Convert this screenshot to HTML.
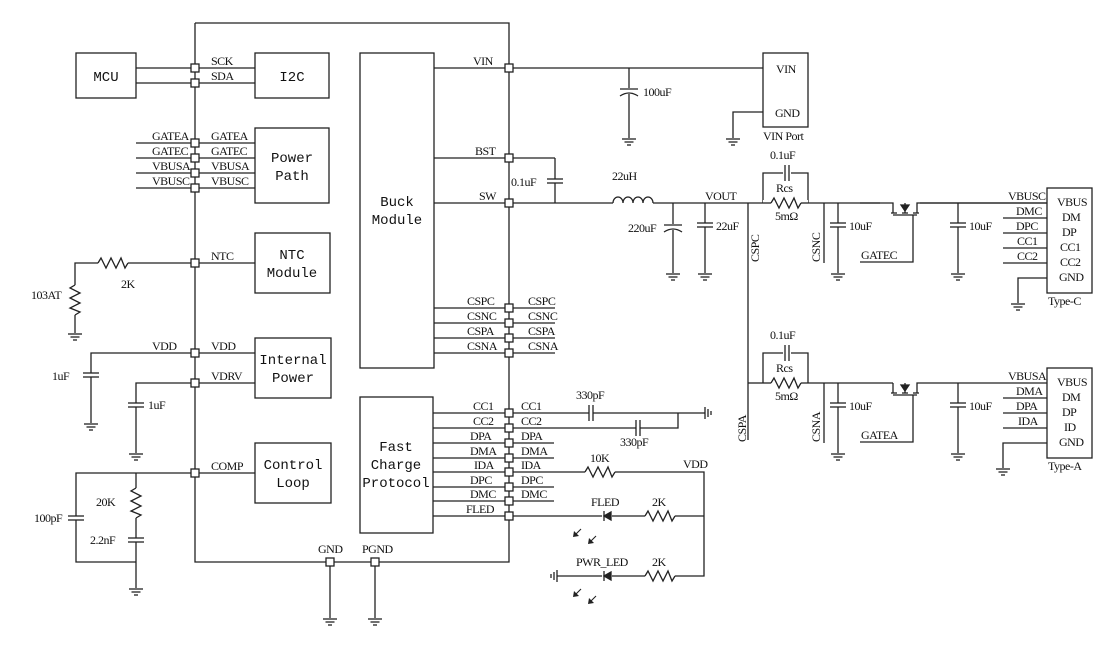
<!DOCTYPE html>
<html><head><meta charset="utf-8"><style>
html,body{margin:0;padding:0;background:#fff;}
svg{display:block}
text{font-family:"Liberation Serif",serif;font-size:12px;fill:#111;letter-spacing:-0.5px}
.m{font-family:"Liberation Mono",monospace;font-size:14px;letter-spacing:0}
</style></head><body>
<svg width="1118" height="653" viewBox="0 0 1118 653" xmlns="http://www.w3.org/2000/svg">
<defs>
<g id="gnd"><line x1="-7" y1="0" x2="7" y2="0"/><line x1="-4.5" y1="3" x2="4.5" y2="3"/><line x1="-2" y1="6" x2="2" y2="6"/></g>
<g id="rh"><polyline points="-15,0 -12,-5 -7,5 -2,-5 3,5 8,-5 12,5 15,0" fill="none"/></g>
<g id="rv"><polyline points="0,-15 -5,-12 5,-7 -5,-2 5,3 -5,8 5,12 0,15" fill="none"/></g>
<g id="cv"><line x1="-8" y1="-2" x2="8" y2="-2"/><line x1="-8" y1="2" x2="8" y2="2"/></g>
<g id="ch"><line x1="-2" y1="-8" x2="-2" y2="8"/><line x1="2" y1="-8" x2="2" y2="8"/></g>
<g id="ce"><line x1="-9" y1="-3" x2="9" y2="-3"/><path d="M-9,4 Q0,-2 9,4" fill="none"/></g>
<g id="p"><rect x="-4" y="-4" width="8" height="8" fill="#fff"/></g>
</defs>
<g stroke="#222" stroke-width="1.3" fill="none">
<polyline points="195,23 509,23 509,562 195,562 195,23"/>
<rect x="76" y="53" width="60" height="45"/>
<rect x="255" y="53" width="74" height="45"/>
<rect x="255" y="128" width="74" height="75"/>
<rect x="255" y="233" width="75" height="60"/>
<rect x="255" y="338" width="76" height="60"/>
<rect x="255" y="443" width="76" height="60"/>
<rect x="360" y="53" width="74" height="315"/>
<rect x="360" y="397" width="73" height="136"/>
<rect x="763" y="53" width="45" height="74"/>
<rect x="1047" y="188" width="45" height="105"/>
<rect x="1047" y="368" width="45" height="90"/>
<line x1="136" y1="68" x2="255" y2="68"/><line x1="136" y1="83" x2="255" y2="83"/>
<line x1="136" y1="143" x2="255" y2="143"/><line x1="136" y1="158" x2="255" y2="158"/>
<line x1="136" y1="173" x2="255" y2="173"/><line x1="136" y1="188" x2="255" y2="188"/>
<polyline points="75,285 75,263 98,263"/><line x1="128" y1="263" x2="255" y2="263"/>
<use href="#rh" x="113" y="263"/>
<use href="#rv" x="75" y="300"/><line x1="75" y1="315" x2="75" y2="333"/><use href="#gnd" x="75" y="334"/>
<polyline points="91,373 91,353 255,353"/><line x1="91" y1="377" x2="91" y2="423"/><use href="#cv" x="91" y="375"/><use href="#gnd" x="91" y="424"/>
<polyline points="136,403 136,383 255,383"/><line x1="136" y1="407" x2="136" y2="453"/><use href="#cv" x="136" y="405"/><use href="#gnd" x="136" y="454"/>
<polyline points="76,516 76,473 255,473"/><polyline points="76,520 76,562 136,562"/>
<use href="#cv" x="76" y="518"/>
<line x1="136" y1="473" x2="136" y2="488"/><use href="#rv" x="136" y="503"/><line x1="136" y1="518" x2="136" y2="538"/>
<use href="#cv" x="136" y="540"/><line x1="136" y1="542" x2="136" y2="588"/><use href="#gnd" x="136" y="589"/>
<line x1="330" y1="562" x2="330" y2="618"/><use href="#gnd" x="330" y="619"/>
<line x1="375" y1="562" x2="375" y2="618"/><use href="#gnd" x="375" y="619"/>
<line x1="434" y1="68" x2="763" y2="68"/>
<line x1="434" y1="158" x2="555" y2="158"/><line x1="555" y1="158" x2="555" y2="179"/><line x1="555" y1="183" x2="555" y2="203"/><use href="#cv" x="555" y="181"/>
<line x1="434" y1="203" x2="613" y2="203"/>
<path d="M613,203 a5,6 0 0 1 10,0 a5,6 0 0 1 10,0 a5,6 0 0 1 10,0 a5,6 0 0 1 10,0"/>
<line x1="653" y1="203" x2="1047" y2="203"/>
<line x1="434" y1="308" x2="555" y2="308"/><line x1="434" y1="323" x2="555" y2="323"/>
<line x1="434" y1="338" x2="555" y2="338"/><line x1="434" y1="353" x2="555" y2="353"/>
<line x1="629" y1="68" x2="629" y2="88"/><use href="#ce" x="629" y="92"/><line x1="629" y1="94" x2="629" y2="138"/><use href="#gnd" x="629" y="139"/>
<polyline points="763,112 733,112 733,138"/><use href="#gnd" x="733" y="139"/>
<line x1="673" y1="203" x2="673" y2="224"/><use href="#ce" x="673" y="228"/><line x1="673" y1="230" x2="673" y2="273"/><use href="#gnd" x="673" y="274"/>
<line x1="705" y1="203" x2="705" y2="223"/><use href="#cv" x="705" y="225"/><line x1="705" y1="227" x2="705" y2="273"/><use href="#gnd" x="705" y="274"/>
<line x1="748" y1="203" x2="748" y2="440"/>
<polyline points="763,203 763,173 783,173"/><polyline points="791,173 808,173 808,203"/><use href="#ch" x="787" y="173"/>
<rect x="763" y="200" width="45" height="6" stroke="none" fill="#fff"/>
<line x1="763" y1="203" x2="771" y2="203"/><use href="#rh" x="786" y="203"/><line x1="801" y1="203" x2="808" y2="203"/>
<line x1="824" y1="203" x2="824" y2="263"/>
<line x1="838" y1="203" x2="838" y2="223"/><use href="#cv" x="838" y="225"/><line x1="838" y1="227" x2="838" y2="273"/><use href="#gnd" x="838" y="274"/>
<rect x="880" y="200" width="40" height="6" stroke="none" fill="#fff"/>
<polyline points="860,203 893,203 893,213"/><polyline points="917,213 917,203 1047,203"/>
<line x1="893" y1="215" x2="917" y2="215"/><line x1="905" y1="203" x2="905" y2="213"/>
<line x1="891" y1="213" x2="897" y2="213"/><line x1="902" y1="213" x2="908" y2="213"/><line x1="913" y1="213" x2="919" y2="213"/>
<path d="M901,205 L909,205 L905,211 Z" fill="#222"/>
<polyline points="860,262 913,262 913,215"/>
<line x1="958" y1="203" x2="958" y2="223"/><use href="#cv" x="958" y="225"/><line x1="958" y1="227" x2="958" y2="273"/><use href="#gnd" x="958" y="274"/>
<line x1="1003" y1="218" x2="1047" y2="218"/><line x1="1003" y1="233" x2="1047" y2="233"/>
<line x1="1003" y1="248" x2="1047" y2="248"/><line x1="1003" y1="263" x2="1047" y2="263"/>
<polyline points="1047,278 1018,278 1018,303"/><use href="#gnd" x="1018" y="304"/>
<line x1="748" y1="383" x2="763" y2="383"/>
<polyline points="763,383 763,353 783,353"/><polyline points="791,353 808,353 808,383"/><use href="#ch" x="787" y="353"/>
<line x1="763" y1="383" x2="771" y2="383"/><use href="#rh" x="786" y="383"/><line x1="801" y1="383" x2="893" y2="383"/>
<line x1="824" y1="383" x2="824" y2="443"/>
<line x1="838" y1="383" x2="838" y2="403"/><use href="#cv" x="838" y="405"/><line x1="838" y1="407" x2="838" y2="453"/><use href="#gnd" x="838" y="454"/>
<line x1="893" y1="383" x2="893" y2="393"/><polyline points="917,393 917,383 1047,383"/>
<line x1="893" y1="395" x2="917" y2="395"/><line x1="905" y1="383" x2="905" y2="393"/>
<line x1="891" y1="393" x2="897" y2="393"/><line x1="902" y1="393" x2="908" y2="393"/><line x1="913" y1="393" x2="919" y2="393"/>
<path d="M901,385 L909,385 L905,391 Z" fill="#222"/>
<polyline points="860,442 913,442 913,395"/>
<line x1="958" y1="383" x2="958" y2="403"/><use href="#cv" x="958" y="405"/><line x1="958" y1="407" x2="958" y2="453"/><use href="#gnd" x="958" y="454"/>
<line x1="1003" y1="398" x2="1047" y2="398"/><line x1="1003" y1="413" x2="1047" y2="413"/>
<line x1="1003" y1="428" x2="1047" y2="428"/>
<polyline points="1047,443 1003,443 1003,468"/><use href="#gnd" x="1003" y="469"/>
<line x1="433" y1="413" x2="589" y2="413"/><line x1="593" y1="413" x2="705" y2="413"/><use href="#ch" x="591" y="413"/>
<line x1="705" y1="407" x2="705" y2="419"/><line x1="708" y1="409" x2="708" y2="417"/><line x1="711" y1="411" x2="711" y2="415"/>
<line x1="433" y1="428" x2="636" y2="428"/><polyline points="640,428 678,428 678,413"/><use href="#ch" x="638" y="428"/>
<line x1="433" y1="443" x2="554" y2="443"/><line x1="433" y1="458" x2="554" y2="458"/>
<line x1="433" y1="472" x2="585" y2="472"/><use href="#rh" x="600" y="472"/><polyline points="615,472 704,472 704,576 675,576"/>
<line x1="433" y1="487" x2="554" y2="487"/><line x1="433" y1="501" x2="554" y2="501"/>
<line x1="433" y1="516" x2="602" y2="516"/><line x1="612" y1="516" x2="645" y2="516"/><use href="#rh" x="660" y="516"/><line x1="675" y1="516" x2="704" y2="516"/>
<path d="M604,516 L611,512 L611,520 Z" fill="#222"/><line x1="604" y1="511" x2="604" y2="521"/>
<line x1="557" y1="576" x2="602" y2="576"/><line x1="612" y1="576" x2="645" y2="576"/><use href="#rh" x="660" y="576"/>
<path d="M604,576 L611,572 L611,580 Z" fill="#222"/><line x1="604" y1="571" x2="604" y2="581"/>
<line x1="557" y1="570" x2="557" y2="582"/><line x1="554" y1="572" x2="554" y2="580"/><line x1="551" y1="574" x2="551" y2="578"/>
<g stroke-width="1.1">
<line x1="581" y1="529" x2="575" y2="535"/><line x1="596" y1="536" x2="590" y2="542"/>
<line x1="581" y1="589" x2="575" y2="595"/><line x1="596" y1="596" x2="590" y2="602"/>
</g>
<g fill="#222" stroke="none">
<path d="M573,537 L574,531 L579,536 Z"/><path d="M588,544 L589,538 L594,543 Z"/>
<path d="M573,597 L574,591 L579,596 Z"/><path d="M588,604 L589,598 L594,603 Z"/>
</g>
<g>
<use href="#p" x="195" y="68"/><use href="#p" x="195" y="83"/>
<use href="#p" x="195" y="143"/><use href="#p" x="195" y="158"/><use href="#p" x="195" y="173"/><use href="#p" x="195" y="188"/>
<use href="#p" x="195" y="263"/><use href="#p" x="195" y="353"/><use href="#p" x="195" y="383"/><use href="#p" x="195" y="473"/>
<use href="#p" x="330" y="562"/><use href="#p" x="375" y="562"/>
<use href="#p" x="509" y="68"/><use href="#p" x="509" y="158"/><use href="#p" x="509" y="203"/>
<use href="#p" x="509" y="308"/><use href="#p" x="509" y="323"/><use href="#p" x="509" y="338"/><use href="#p" x="509" y="353"/>
<use href="#p" x="509" y="413"/><use href="#p" x="509" y="428"/><use href="#p" x="509" y="443"/><use href="#p" x="509" y="458"/>
<use href="#p" x="509" y="472"/><use href="#p" x="509" y="487"/><use href="#p" x="509" y="501"/><use href="#p" x="509" y="516"/>
</g>
</g>
<g>
<text class="m" x="106" y="81" text-anchor="middle">MCU</text>
<text class="m" x="292" y="81" text-anchor="middle">I2C</text>
<text class="m" x="292" y="162" text-anchor="middle">Power</text><text class="m" x="292" y="180" text-anchor="middle">Path</text>
<text class="m" x="292" y="259" text-anchor="middle">NTC</text><text class="m" x="292" y="277" text-anchor="middle">Module</text>
<text class="m" x="293" y="364" text-anchor="middle">Internal</text><text class="m" x="293" y="382" text-anchor="middle">Power</text>
<text class="m" x="293" y="469" text-anchor="middle">Control</text><text class="m" x="293" y="487" text-anchor="middle">Loop</text>
<text class="m" x="397" y="206" text-anchor="middle">Buck</text><text class="m" x="397" y="224" text-anchor="middle">Module</text>
<text class="m" x="396" y="451" text-anchor="middle">Fast</text><text class="m" x="396" y="469" text-anchor="middle">Charge</text><text class="m" x="396" y="487" text-anchor="middle">Protocol</text>
<text x="211" y="65">SCK</text><text x="211" y="80">SDA</text>
<text x="152" y="140">GATEA</text><text x="211" y="140">GATEA</text>
<text x="152" y="155">GATEC</text><text x="211" y="155">GATEC</text>
<text x="152" y="170">VBUSA</text><text x="211" y="170">VBUSA</text>
<text x="152" y="185">VBUSC</text><text x="211" y="185">VBUSC</text>
<text x="211" y="260">NTC</text><text x="121" y="288">2K</text><text x="31" y="299">103AT</text>
<text x="152" y="350">VDD</text><text x="211" y="350">VDD</text><text x="211" y="380">VDRV</text>
<text x="52" y="380">1uF</text><text x="148" y="409">1uF</text>
<text x="211" y="470">COMP</text><text x="96" y="506">20K</text><text x="34" y="522">100pF</text><text x="90" y="544">2.2nF</text>
<text x="318" y="553">GND</text><text x="362" y="553">PGND</text>
<text x="473" y="65">VIN</text><text x="475" y="155">BST</text><text x="479" y="200">SW</text>
<text x="511" y="186">0.1uF</text>
<text x="467" y="305">CSPC</text><text x="528" y="305">CSPC</text>
<text x="467" y="320">CSNC</text><text x="528" y="320">CSNC</text>
<text x="467" y="335">CSPA</text><text x="528" y="335">CSPA</text>
<text x="467" y="350">CSNA</text><text x="528" y="350">CSNA</text>
<text x="473" y="410">CC1</text><text x="521" y="410">CC1</text>
<text x="473" y="425">CC2</text><text x="521" y="425">CC2</text>
<text x="470" y="440">DPA</text><text x="521" y="440">DPA</text>
<text x="470" y="455">DMA</text><text x="521" y="455">DMA</text>
<text x="474" y="469">IDA</text><text x="521" y="469">IDA</text>
<text x="470" y="484">DPC</text><text x="521" y="484">DPC</text>
<text x="470" y="498">DMC</text><text x="521" y="498">DMC</text>
<text x="466" y="513">FLED</text>
<text x="576" y="399">330pF</text><text x="620" y="446">330pF</text>
<text x="590" y="462">10K</text><text x="683" y="468">VDD</text>
<text x="591" y="506">FLED</text><text x="652" y="506">2K</text>
<text x="576" y="566">PWR_LED</text><text x="652" y="566">2K</text>
<text x="643" y="96">100uF</text>
<text x="776" y="73">VIN</text><text x="775" y="117">GND</text><text x="763" y="140">VIN Port</text>
<text x="612" y="180">22uH</text><text x="705" y="200">VOUT</text>
<text x="628" y="232">220uF</text><text x="716" y="230">22uF</text>
<text x="770" y="159">0.1uF</text><text x="776" y="192">Rcs</text><text x="775" y="220">5mΩ</text>
<text x="770" y="339">0.1uF</text><text x="776" y="372">Rcs</text><text x="775" y="400">5mΩ</text>
<text transform="translate(759,262) rotate(-90)">CSPC</text>
<text transform="translate(820,262) rotate(-90)">CSNC</text>
<text transform="translate(746,442) rotate(-90)">CSPA</text>
<text transform="translate(820,442) rotate(-90)">CSNA</text>
<text x="849" y="230">10uF</text><text x="969" y="230">10uF</text>
<text x="849" y="410">10uF</text><text x="969" y="410">10uF</text>
<text x="861" y="259">GATEC</text><text x="861" y="439">GATEA</text>
<text x="1008" y="200">VBUSC</text><text x="1008" y="380">VBUSA</text>
<text x="1016" y="215">DMC</text><text x="1016" y="230">DPC</text><text x="1017" y="245">CC1</text><text x="1017" y="260">CC2</text>
<text x="1016" y="395">DMA</text><text x="1016" y="410">DPA</text><text x="1018" y="425">IDA</text>
<text x="1057" y="206">VBUS</text><text x="1062" y="221">DM</text><text x="1062" y="236">DP</text><text x="1060" y="251">CC1</text><text x="1060" y="266">CC2</text><text x="1059" y="281">GND</text>
<text x="1057" y="386">VBUS</text><text x="1062" y="401">DM</text><text x="1062" y="416">DP</text><text x="1064" y="431">ID</text><text x="1059" y="446">GND</text>
<text x="1048" y="305">Type-C</text><text x="1048" y="470">Type-A</text>
</g>
</svg>
</body></html>
